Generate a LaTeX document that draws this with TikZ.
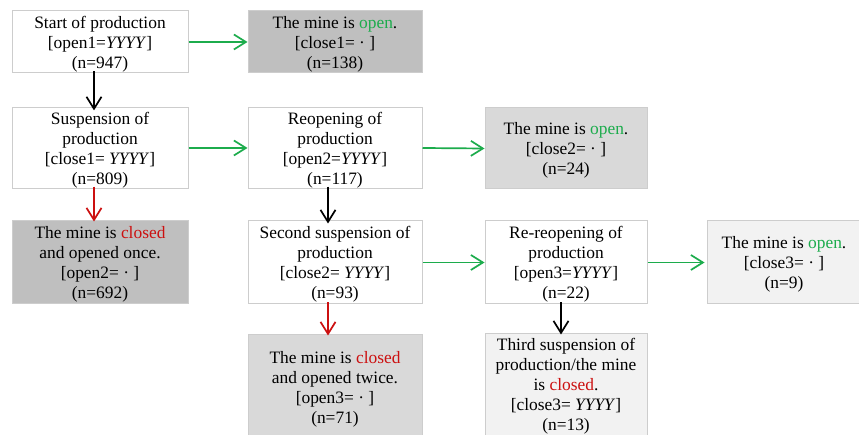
\documentclass[tikz,border=0pt]{standalone}
\usepackage{fontspec}
\setmainfont{Liberation Serif}
\usetikzlibrary{arrows.meta,calc}
\definecolor{okgreen}{RGB}{28,172,76}
\definecolor{stopred}{RGB}{204,16,16}
\definecolor{boxline}{RGB}{205,205,205}
\definecolor{shadeA}{RGB}{191,191,191}
\definecolor{shadeB}{RGB}{217,217,217}
\definecolor{shadeC}{RGB}{242,242,242}
\newcommand{\opn}{\textcolor{okgreen}{open}}
\newcommand{\cls}{\textcolor{stopred}{closed}}
\newcommand{\yr}{\textit{YYYY}}
% taller first line so that the text block sits a little low in its box
\newcommand{\lift}{\rule{0pt}{16.5pt}}
\tikzset{
  stage/.style={draw=boxline, line width=1pt, fill=white, align=center,
    inner sep=0pt, font=\fontsize{17.4}{20}\selectfont},
  flowarrow/.style={line width=1.7pt, -{Straight Barb[length=12pt,width=15pt,line width=1.7pt]}},
  yes/.style={flowarrow, draw=okgreen},
  no/.style={flowarrow, draw=stopred},
  next/.style={flowarrow, draw=black},
}
\begin{document}
\begin{tikzpicture}[x=1pt,y=-1pt]
\useasboundingbox[fill=white] (0,0) rectangle (859,435);
\begin{scope}
\clip (0,0) rectangle (859,435);
% row 1
\node[stage, minimum width=176pt, minimum height=62pt] (start) at (100,42)
  {\lift Start of production\\{[}open1=\yr]\\(n=947)};
\node[stage, fill=shadeA, minimum width=174pt, minimum height=62pt] (open1) at (335,42)
  {\lift The mine is \opn.\\{[}close1= · ]\\(n=138)};
% row 2
\node[stage, minimum width=176pt, minimum height=80pt] (susp1) at (100,148)
  {\lift Suspension of\\production\\{[}close1= \yr]\\(n=809)};
\node[stage, minimum width=174pt, minimum height=80pt] (reop1) at (335,148)
  {\lift Reopening of\\production\\{[}open2=\yr]\\(n=117)};
\node[stage, fill=shadeB, minimum width=162pt, minimum height=81pt] (open2) at (566,148.5)
  {\lift The mine is \opn.\\{[}close2= · ]\\(n=24)};
% row 3
\node[stage, fill=shadeA, minimum width=176pt, minimum height=83pt] (closed1) at (100,262.5)
  {\lift The mine is \cls\\and opened once.\\{[}open2= · ]\\(n=692)};
\node[stage, minimum width=174pt, minimum height=83pt] (susp2) at (335,262.5)
  {\lift Second suspension of\\production\\{[}close2= \yr]\\(n=93)};
\node[stage, minimum width=162pt, minimum height=83pt] (reop2) at (566,262.5)
  {\lift Re-reopening of\\production\\{[}open3=\yr]\\(n=22)};
\node[stage, fill=shadeC, minimum width=154pt, minimum height=83pt] (open3) at (784,262.5)
  {\lift The mine is \opn.\\{[}close3= · ]\\(n=9)};
% row 4 (boxes run off the lower edge)
\node[stage, fill=shadeB, minimum width=174pt, minimum height=104pt] (closed2) at (335,387)
  {\lift The mine is \cls\\and opened twice.\\{[}open3= · ]\\(n=71)};
\node[stage, fill=shadeC, minimum width=162pt, minimum height=104pt] (closed3) at (566,386)
  {Third suspension of\\production/the mine\\is \cls.\\{[}close3= \yr]\\(n=13)};
% connectors
\draw[yes] (start.east) -- (open1.west);
\draw[yes] (susp1.east) -- (reop1.west);
\draw[yes] (reop1.east) -- (open2.west);
\draw[yes] (susp2.east) -- (reop2.west);
\draw[yes] (reop2.east) -- ([xshift=-2pt]open3.west);
\draw[next] ([xshift=-6pt,yshift=2pt]start.south) -- ([xshift=-6pt,yshift=-3pt]susp1.north);
\draw[no] ([xshift=-6pt,yshift=2pt]susp1.south) -- ([xshift=-6pt,yshift=-1pt]closed1.north);
\draw[next] ([xshift=-7pt,yshift=2pt]reop1.south) -- ([xshift=-7pt,yshift=-3pt]susp2.north);
\draw[no] ([xshift=-7pt,yshift=2pt]susp2.south) -- ([xshift=-7pt,yshift=-1pt]closed2.north);
\draw[next] ([xshift=-5pt,yshift=2pt]reop2.south) -- ([xshift=-5pt,yshift=-1pt]closed3.north);
\end{scope}
\end{tikzpicture}
\end{document}
